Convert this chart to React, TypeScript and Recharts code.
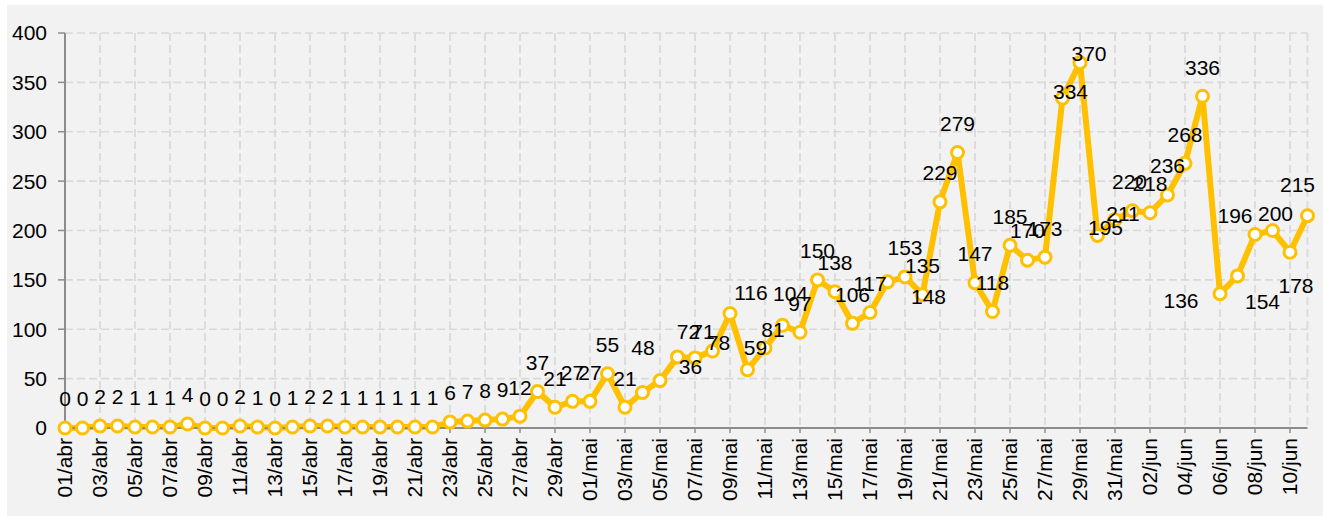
import React from "react";
import { LineChart, Line, XAxis, YAxis, CartesianGrid, LabelList } from "recharts";

const days = [
  "01/abr","02/abr","03/abr","04/abr","05/abr","06/abr","07/abr","08/abr","09/abr","10/abr",
  "11/abr","12/abr","13/abr","14/abr","15/abr","16/abr","17/abr","18/abr","19/abr","20/abr",
  "21/abr","22/abr","23/abr","24/abr","25/abr","26/abr","27/abr","28/abr","29/abr","30/abr",
  "01/mai","02/mai","03/mai","04/mai","05/mai","06/mai","07/mai","08/mai","09/mai","10/mai",
  "11/mai","12/mai","13/mai","14/mai","15/mai","16/mai","17/mai","18/mai","19/mai","20/mai",
  "21/mai","22/mai","23/mai","24/mai","25/mai","26/mai","27/mai","28/mai","29/mai","30/mai",
  "31/mai","01/jun","02/jun","03/jun","04/jun","05/jun","06/jun","07/jun","08/jun","09/jun",
  "10/jun","11/jun",
];

const cases = [
  0, 0, 2, 2, 1, 1, 1, 4, 0, 0,
  2, 1, 0, 1, 2, 2, 1, 1, 1, 1,
  1, 1, 6, 7, 8, 9, 12, 37, 21, 27,
  27, 55, 21, 36, 48, 72, 71, 78, 116, 59,
  81, 104, 97, 150, 138, 106, 117, 148, 153, 135,
  229, 279, 147, 118, 185, 170, 173, 334, 370, 195,
  211, 220, 218, 236, 268, 336, 136, 154, 196, 200,
  178, 215,
];

const tickLabels = [
  "01/abr","03/abr","05/abr","07/abr","09/abr","11/abr","13/abr","15/abr","17/abr","19/abr",
  "21/abr","23/abr","25/abr","27/abr","29/abr","01/mai","03/mai","05/mai","07/mai","09/mai",
  "11/mai","13/mai","15/mai","17/mai","19/mai","21/mai","23/mai","25/mai","27/mai","29/mai",
  "31/mai","02/jun","04/jun","06/jun","08/jun","10/jun",
];

const yTicks = [0, 50, 100, 150, 200, 250, 300, 350, 400];

// label nudges (index, dx, dy) relative to the default "above" placement
const labelNudges: [number, number, number][] = [
  [33, 48, 3], [34, -17, -4], [35, 11, 4], [36, 8, 3], [37, 6, 21],
  [38, 21, 8], [39, 8, 7], [40, 8, 11], [41, 8, -3],
  [47, 41, 44],
  [57, 8, 22], [58, 9, 20], [59, 8, 21], [60, 8, 23], [61, -3, 0],
  [66, -39, 36], [67, 25, 55], [68, -20, 10], [69, 3, 12], [70, 6, 62], [71, -10, -2],
];

const data = days.map((d, i) => ({ day: d, value: cases[i] }));
const nudgeMap = new Map<number, [number, number]>(labelNudges.map(([i, dx, dy]) => [i, [dx, dy]]));

const FONT = "'Liberation Sans', Arial, sans-serif";
const FS = 21;

const DataLabel = (props: any) => {
  const { x, y, value, index } = props;
  const n = nudgeMap.get(index) ?? [0, 0];
  return (
    <text x={x + n[0]} y={y - 29 + n[1]} dy="0.35em" textAnchor="middle" fontSize={FS} fill="#000" fontFamily={FONT}>
      {value}
    </text>
  );
};

const XTick = (props: any) => {
  const { x, y, payload } = props;
  return (
    <text x={x} y={y} dy="0.35em" textAnchor="end" fontSize={FS} fill="#000" fontFamily={FONT} transform={`rotate(-90, ${x}, ${y})`}>
      {payload.value}
    </text>
  );
};

export default function App() {
  return (
    <div style={{ position: "fixed", left: 0, top: 0, width: 1323, height: 523, background: "#fff" }}>
      <div style={{ position: "absolute", left: 7, top: 5, width: 1316, height: 511, background: "#f2f2f2" }} />
      <div style={{ position: "absolute", left: 0, top: 0 }}>
        <LineChart width={1323} height={523} data={data} margin={{ top: 33, right: 15.5, bottom: 0, left: 5 }}>
          <CartesianGrid stroke="#d9d9d9" strokeDasharray="8 4" strokeWidth={1.7} />
          <XAxis
            dataKey="day"
            ticks={tickLabels}
            interval={0}
            height={95}
            tickSize={5}
            tickMargin={5}
            tick={<XTick />}
            axisLine={{ stroke: "#8c8c8c", strokeWidth: 2 }}
            tickLine={{ stroke: "#8c8c8c", strokeWidth: 1.5 }}
          />
          <YAxis
            domain={[0, 400]}
            ticks={yTicks}
            width={60}
            tickSize={7}
            tickMargin={11}
            tick={{ fontSize: FS, fill: "#000", fontFamily: FONT }}
            axisLine={{ stroke: "#8c8c8c", strokeWidth: 2 }}
            tickLine={{ stroke: "#8c8c8c", strokeWidth: 1.5 }}
          />
          <Line
            type="linear"
            dataKey="value"
            stroke="#FFC000"
            strokeWidth={6}
            strokeLinejoin="round"
            dot={{ r: 6, fill: "#fff", stroke: "#FFC000", strokeWidth: 3 }}
            activeDot={false}
            isAnimationActive={false}
          >
            <LabelList dataKey="value" content={<DataLabel />} />
          </Line>
        </LineChart>
      </div>
    </div>
  );
}
